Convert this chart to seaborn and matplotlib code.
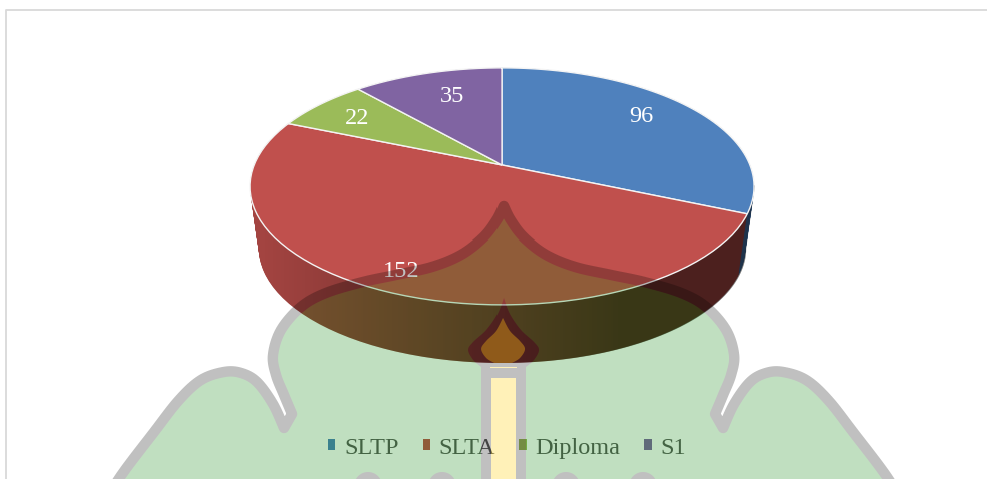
import numpy as np
import matplotlib
matplotlib.use("Agg")
import matplotlib.pyplot as plt
import matplotlib.transforms as mtransforms
from matplotlib.path import Path
from matplotlib.patches import Patch, Polygon, Rectangle, Circle
import seaborn as sns

categories = ["SLTP", "SLTA", "Diploma", "S1"]
values = [96, 152, 22, 35]
colors = ["#4f81bd", "#c0504d", "#9bbb59", "#8064a2"]

W, H = 987, 479
FIGSIZE = ((W + 0.1) / 100, (H + 0.1) / 100)  # 9.87 alone rounds down to 986 px
CX = 502
K = 0.181  # perspective strength


class Tilt(mtransforms.Transform):
    # unit disc -> pixel coords, far side shrinks like the 3D pie
    input_dims = 2
    output_dims = 2

    def __init__(self, y0=165, scale=1.0):
        super().__init__()
        self.y0 = y0
        self.scale = scale

    def transform_non_affine(self, xy):
        xy = np.asarray(xy, dtype=float)
        w = 1 + K * xy[:, 1]
        return np.column_stack([CX + 247.8 * self.scale * xy[:, 0] / w,
                                self.y0 - 114.6 * self.scale * xy[:, 1] / w])

    def transform_path_non_affine(self, path):
        # flatten first, bezier control points don't survive the projection
        polys = path.to_polygons(mtransforms.Affine2D().scale(500), closed_only=False)
        v = np.vstack(polys) / 500
        v = np.vstack([v, v[0]])
        return Path(self.transform_non_affine(v))


def smooth(pts, n=12):
    # catmull-rom through the traced points of the watermark
    p = np.array(pts, dtype=float)
    p = np.vstack([p[0], p, p[-1]])
    out = []
    for i in range(1, len(p) - 2):
        for t in np.linspace(0, 1, n, endpoint=False):
            out.append(0.5 * (2 * p[i] + (p[i + 1] - p[i - 1]) * t
                              + (2 * p[i - 1] - 5 * p[i] + 4 * p[i + 1] - p[i + 2]) * t ** 2
                              + (3 * p[i] - p[i - 1] - 3 * p[i + 1] + p[i + 2]) * t ** 3))
    out.append(p[-2])
    return np.array(out)


def offscreen():
    f = plt.figure(figsize=FIGSIZE, dpi=100)
    a = f.add_axes([0, 0, 1, 1])
    a.set_xlim(0, W)
    a.set_ylim(H, 0)
    a.axis("off")
    return f, a


def grab(f):
    f.canvas.draw()
    rgb = np.asarray(f.canvas.buffer_rgba())[:, :, :3] / 255.0
    plt.close(f)
    return rgb


def draw_watermark():
    # painted opaque on its own figure, then turned into a see-through layer
    fig2, a2 = offscreen()

    dome = [(503, 207), (510, 221), (523, 238), (545, 255), (574, 267), (610, 275),
            (643, 282), (680, 293), (705, 307), (725, 330), (733, 355), (730, 375),
            (722, 395), (714, 414)]
    wing = [(722, 428), (733, 404), (749, 382), (765, 373), (782, 372), (805, 380),
            (827, 400), (852, 432), (886, 477), (905, 510)]
    right = np.vstack([smooth(dome), smooth(wing)])
    left = np.column_stack([2 * 503 - right[::-1, 0], right[::-1, 1]])
    outline = np.vstack([right, left[:-1]])
    a2.add_patch(Polygon(outline, closed=True, fc="#c0e0c0", ec="#c0c0c0", lw=7.5, joinstyle="round"))

    for x, inner in [(368, False), (442, False), (565, True), (642, True)]:
        a2.add_patch(Circle((x, 486), 14, fc="#c0c0c0", ec="none"))
        if inner:
            a2.add_patch(Circle((x, 488), 9, fc="#fff2b8", ec="none"))

    # candle
    a2.add_patch(Rectangle((481, 362), 44, 140, fc="#c0c0c0", ec="none"))
    a2.add_patch(Rectangle((491, 378), 24, 120, fc="#fff2b8", ec="none"))
    a2.add_patch(Rectangle((490, 363), 26, 5, fc="#fff2b8", ec="none"))
    flame = smooth([(503, 298), (509, 314), (520, 330), (533, 342), (538, 350), (533, 360), (525, 367)])
    flame = np.vstack([flame, np.column_stack([2 * 503 - flame[::-1, 0], flame[::-1, 1]])])
    a2.add_patch(Polygon(flame, closed=True, fc="#c0c0c0", ec="none"))

    rgb = grab(fig2)
    alpha = 1 - rgb.min(axis=2)
    safe = np.where(alpha > 0, alpha, 1)[:, :, None]
    col = np.clip((rgb - (1 - safe)) / safe, 0, 1)
    return np.dstack([col, alpha])


def wall_shade():
    # black ramp, darker to the right, only inside the pie's outline
    th = np.linspace(np.pi + np.arcsin(K), 2 * np.pi - np.arcsin(K), 120)
    unit = np.column_stack([np.cos(th), np.sin(th)])
    low = Tilt(228, 0.965).transform_non_affine(unit)
    top = Tilt(165, 1.0).transform_non_affine(unit[[-1, 0]])
    fig2, a2 = offscreen()
    a2.add_patch(Polygon(np.vstack([low, top]), closed=True, fc="black", ec="none"))
    mask = 1 - grab(fig2)[:, :, 0]
    ramp = np.interp(np.arange(mask.shape[1]), [262, 620, 760], [0, 0.53, 0.53])
    shade = np.zeros(mask.shape + (4,))
    shade[:, :, 3] = mask * ramp
    return shade


sns.set_theme(style="white")
plt.rcParams["font.family"] = ["Liberation Serif", "DejaVu Serif"]
palette = sns.color_palette(colors)

fig = plt.figure(figsize=FIGSIZE, dpi=100)
ax = fig.add_axes([0, 0, 1, 1])

# side wall: same pie stacked downwards, darker
wall_colors = [tuple(c * 0.85 for c in p) for p in palette]
for t in np.linspace(1, 0, 60):
    layer = Tilt(165 + (228 - 165) * t, 1 + (0.965 - 1) * t)
    wedges, _ = ax.pie(values, colors=wall_colors, startangle=90, counterclock=False,
                       wedgeprops={"linewidth": 0, "edgecolor": "none"})
    for w in wedges:
        w.set_transform(layer + ax.transData)
        w.set_zorder(1)

ax.imshow(wall_shade(), extent=(0, W, H, 0), aspect="auto", zorder=2, interpolation="nearest")

# top face
wedges, _ = ax.pie(values, colors=palette, startangle=90, counterclock=False,
                   wedgeprops={"linewidth": 1.0, "edgecolor": "#f4f4f4"})
for w in wedges:
    w.set_transform(Tilt() + ax.transData)
    w.set_zorder(3)

ax.set_aspect("auto")
ax.set_xlim(0, W)
ax.set_ylim(H, 0)
ax.axis("off")

# value labels
label_pos = [(641, 116), (401, 271), (357, 118), (452, 96)]
for v, (x, y) in zip(values, label_pos):
    ax.text(x, y, str(v), color="white", fontsize=17.5, ha="center", va="center", zorder=4)

handles = [Patch(facecolor=c, edgecolor="none") for c in palette]
leg = ax.legend(handles, categories, ncol=4, loc="center", bbox_to_anchor=(507, 448),
                bbox_transform=ax.transData, frameon=False, fontsize=17.5,
                labelcolor="#595959", handlelength=0.3, handleheight=0.3,
                handletextpad=0.35, columnspacing=1.0, borderpad=0, borderaxespad=0)
leg.set_zorder(4)

# chart frame
ax.plot([6, 6, W], [H, 10, 10], color="#d9d9d9", lw=1.3, zorder=0)

ax.imshow(draw_watermark(), extent=(0, W, H, 0), aspect="auto", zorder=5, interpolation="nearest")
flame_inner = smooth([(503, 318), (510, 331), (520, 341), (525, 349), (520, 358), (512, 363)])
flame_inner = np.vstack([flame_inner, np.column_stack([2 * 503 - flame_inner[::-1, 0], flame_inner[::-1, 1]])])
ax.add_patch(Polygon(flame_inner, closed=True, fc="#8f5a1a", ec="none", zorder=6))
ax.set_xlim(0, W)
ax.set_ylim(H, 0)

fig.savefig("out.png", dpi=100)
